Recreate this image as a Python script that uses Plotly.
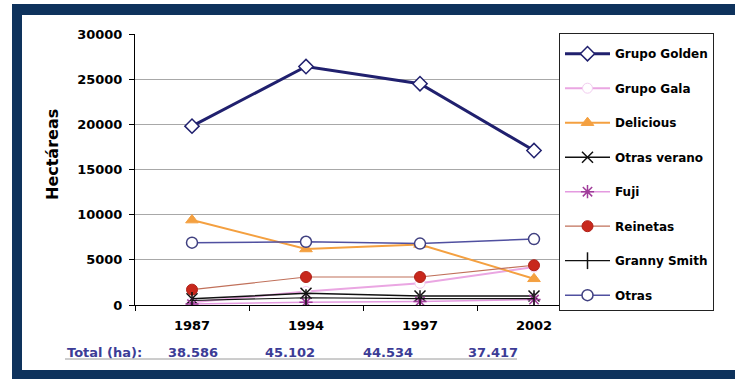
import plotly.graph_objects as go

# Superficie de manzano por variedad (hectáreas)
years = ["1987", "1994", "1997", "2002"]
grupo_golden = [19800, 26400, 24500, 17100]
grupo_gala = [300, 1500, 2400, 4200]
delicious = [9400, 6200, 6700, 2900]
otras_verano = [700, 1300, 1000, 1000]
fuji = [100, 300, 400, 600]
reinetas = [1700, 3100, 3100, 4400]
granny_smith = [500, 800, 700, 700]
otras = [6900, 7000, 6800, 7300]
totals = ["38.586", "45.102", "44.534", "37.417"]
y_ticks = [0, 5000, 10000, 15000, 20000, 25000, 30000]

W, H = 735, 379
L, R, T, B = 135, 591, 34, 305  # plot area in pixels


def px(x):
    return (x - L) / (R - L)


def py(y):
    return (B - y) / (B - T)


FONT = "DejaVu Sans"
xs = list(range(len(years)))

series = [
    ("Grupo Golden", grupo_golden,
     dict(color="#20206e", width=3),
     dict(symbol="diamond", size=11, color="white", line=dict(color="#20206e", width=1.5))),
    ("Grupo Gala", grupo_gala,
     dict(color="#eaa6e2", width=2),
     dict(symbol="circle", size=10, color="white", line=dict(color="#f2cdf0", width=1))),
    ("Delicious", delicious,
     dict(color="#f4a040", width=2),
     dict(symbol="triangle-up", size=11, color="#f4a040", line=dict(color="#f4a040", width=1))),
    ("Otras verano", otras_verano,
     dict(color="#111111", width=1.5),
     dict(symbol="x-thin-open", size=11, color="#111111", line=dict(color="#111111", width=1.5))),
    ("Fuji", fuji,
     dict(color="#e49ae0", width=1.5),
     dict(symbol="asterisk-open", size=11, color="#a03c9a", line=dict(color="#a03c9a", width=1.5))),
    ("Reinetas", reinetas,
     dict(color="#c0705a", width=1.2),
     dict(symbol="circle", size=11, color="#c8281c", line=dict(color="#b02018", width=1))),
    ("Granny Smith", granny_smith,
     dict(color="#111111", width=1.2),
     dict(symbol="line-ns-open", size=12, color="#111111", line=dict(color="#111111", width=1.5))),
    ("Otras", otras,
     dict(color="#5050a0", width=1.5),
     dict(symbol="circle", size=11, color="white", line=dict(color="#404080", width=1.5))),
]

fig = go.Figure()
for i, (name, vals, line, marker) in enumerate(series):
    fig.add_trace(go.Scatter(
        x=xs, y=vals, name=name, mode="lines+markers",
        line=line, marker=marker, legendgroup=f"g{i}",
    ))

shapes = []
navy = "#0e325c"
# dark frame: top, left and bottom bands
shapes.append(dict(type="rect", xref="paper", yref="paper", layer="above",
                   x0=px(12), x1=px(735), y0=py(4), y1=py(15),
                   fillcolor=navy, line=dict(width=0)))
shapes.append(dict(type="rect", xref="paper", yref="paper", layer="above",
                   x0=px(12), x1=px(22), y0=py(4), y1=py(379),
                   fillcolor=navy, line=dict(width=0)))
shapes.append(dict(type="rect", xref="paper", yref="paper", layer="above",
                   x0=px(12), x1=px(735), y0=py(370), y1=py(379),
                   fillcolor=navy, line=dict(width=0)))
# rule under the totals row
shapes.append(dict(type="line", xref="paper", yref="paper",
                   x0=px(65), x1=px(517), y0=py(359), y1=py(359),
                   line=dict(color="#9a9a9a", width=1)))

annotations = [
    dict(text="<b>Hectáreas</b>", xref="paper", yref="paper",
         x=px(52), y=py(155), xanchor="center", yanchor="middle",
         textangle=-90, showarrow=False,
         font=dict(family=FONT, size=16, color="black")),
    dict(text="<b>Total (ha):</b>", xref="paper", yref="paper",
         x=px(65), y=py(352), xanchor="left", yanchor="middle", showarrow=False,
         font=dict(family=FONT, size=13, color="#3c3c96")),
]
total_px = [193, 290, 388, 493]
for t, cx in zip(totals, total_px):
    annotations.append(dict(text=f"<b>{t}</b>", xref="paper", yref="paper",
                            x=px(cx), y=py(352), xanchor="center", yanchor="middle",
                            showarrow=False,
                            font=dict(family=FONT, size=13, color="#3c3c96")))

fig.update_layout(
    width=W, height=H,
    margin=dict(l=L, r=W - R, t=T, b=H - B, pad=0),
    paper_bgcolor="white", plot_bgcolor="white",
    font=dict(family=FONT, color="black"),
    shapes=shapes, annotations=annotations,
    legend=dict(
        x=px(559), y=py(33), xanchor="left", yanchor="top",
        bgcolor="white", bordercolor="#222222", borderwidth=1,
        font=dict(family=FONT, size=12, color="black", weight="bold"),
        title=dict(text=" ", font=dict(size=4)),
        tracegroupgap=15.5, itemwidth=45, maxheight=340,
    ),
    xaxis=dict(
        range=[-0.5, 3.5], tickvals=xs, ticktext=[f"<b>{y}</b>" for y in years],
        ticks="", showgrid=False, zeroline=False,
        showline=True, linecolor="black", linewidth=1,
        tickfont=dict(family=FONT, size=13, color="black"),
        ticklabelstandoff=8,
        minor=dict(tick0=0.5, dtick=1, ticks="outside", ticklen=5,
                   tickcolor="black", showgrid=False),
    ),
    yaxis=dict(
        range=[0, 30000], tickvals=y_ticks, ticktext=[f"<b>{v}</b>" for v in y_ticks],
        ticks="outside", ticklen=5, tickcolor="black",
        showgrid=True, gridcolor="#a8a8a8", gridwidth=1, zeroline=False,
        showline=True, linecolor="black", linewidth=1,
        tickfont=dict(family=FONT, size=13, color="black"),
        ticklabelstandoff=4,
    ),
)

fig.write_html("out.html")
